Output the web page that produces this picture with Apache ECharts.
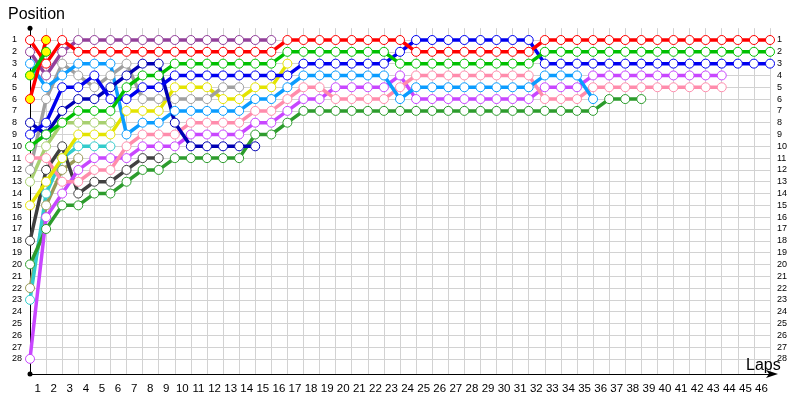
<!DOCTYPE html>
<html><head><meta charset="utf-8">
<script src="https://cdn.jsdelivr.net/npm/echarts@6/dist/echarts.min.js"></script>
<style>html,body{margin:0;padding:0;background:#fff}#c{width:800px;height:400px}</style>
</head><body><div id="c"></div>
<script>
// positions per lap, index = lap (0 = grid)
const red      = [1,3,1, 2,2,2,2,2,2,2,2,2,2,2,2,2, 1,1,1,1,1,1,1,1, 2,2,2,2,2,2,2,2, 1,1,1,1,1,1,1,1,1,1,1,1,1,1,1];
const lime     = [10,9,8,7,7,7,5,4,4, 3,3,3,3,3,3,3, 2,2,2,2,2,2,2, 3,3,3,3,3,3,3,3,3, 2,2,2,2,2,2,2,2,2,2,2,2,2,2,2];
const blue     = [9,8,5,5,4,6,6,5,5, 4,4,4,4,4,4,4,4, 3,3,3,3,3,3, 2, 1,1,1,1,1,1,1,1, 3,3,3,3,3,3,3,3,3,3,3,3,3,3,3];
const purple   = [2,4,2, 1,1,1,1,1,1,1,1,1,1,1,1,1];
const lightblue= [3,5,4,3,3,3,9,8,8,7,7,7,7,7,6,6,5,4,4,4,4,4,4,6,5,5,5,5,5,5,5,5,4,4,4,6];
const grey     = [12,6,3,4,5,4,3,6,6,6,6,6,5,5];
const navy     = [8,9,7,6,6,5,4,3,3,8,10,10,10,10,10];
const yellow   = [15,13,11,9,9,9,7,7,7,5,5,5,6,6,5,5,3];
const pink     = [11,11,13,13,12,12,10,9,9,9,8,8,8,8,7,7,6,5,5, 6,6,6,6, 5, 4,4,4,4,4,4,4,4, 6,6,6, 5,5,5,5,5,5,5,5,5];
const magenta  = [28,16,14,12,11,11,11,10,10,10,9,9,9,9,8,8,7,6,6, 5,5,5,5, 4, 6,6,6,6,6,6,6,6, 5,5,5, 4,4,4,4,4,4,4,4,4];
const black    = [18,12,10,14,13,13,12,11,11];
const darkgreen= [20,17,15,15,14,14,13,12,12,11,11,11,11,11,9,9,8, 7,7,7,7,7,7,7,7,7,7,7,7,7,7,7,7,7,7,7, 6,6,6];
const olive    = [22,15,12,11];
const cyan     = [23,14,11,10,10,10];
const lightgreen=[13,10,8,8,8,8];
const redMark  = [6,1];
const greenMark= [4,2];
const yTicks = Array.from({length:28},(_,i)=>i+1);

const drivers = [
  ['lightgreen', lightgreen, '#a8d070'],
  ['olive', olive, '#9a9a58'],
  ['cyan', cyan, '#33cccc'],
  ['black', black, '#404040'],
  ['darkgreen', darkgreen, '#2c9c2c'],
  ['magenta', magenta, '#c846ff'],
  ['pink', pink, '#ff8cac'],
  ['yellow', yellow, '#e4e400'],
  ['grey', grey, '#a0a0a0'],
  ['lightblue', lightblue, '#0a9cff'],
  ['navy', navy, '#0000b4'],
  ['blue', blue, '#0000f0'],
  ['purple', purple, '#93409a'],
  ['lime', lime, '#00c000'],
  ['red', red, '#ff0000'],
  ['redMark', redMark, '#ff0000', '#ffff00'],
  ['greenMark', greenMark, '#00c000', '#ffff00']
];

const series = drivers.map(([name, arr, col, fill]) => ({
  name, type:'line', data: arr.map((p,i)=>[i,p]),
  symbol:'circle', symbolSize:9, showAllSymbol:true,
  lineStyle:{color:col, width:3.5},
  itemStyle:{color: fill || '#ffffff', borderColor: col, borderWidth:1},
  emphasis:{disabled:true}, z: 2
}));

const gridGrey = '#d2d2d2';
const yColors = [];
for (let i=0;i<=31;i++) yColors.push((i>=1 && i<=28) ? gridGrey : 'rgba(0,0,0,0)');

const chart = echarts.init(document.getElementById('c'));
chart.setOption({
  animation:false,
  title:[
    {text:'Position', left:3, top:2, textStyle:{fontFamily:'Liberation Sans', fontSize:16, fontWeight:'normal', color:'#000'}},
    {text:'Laps', left:741, top:353, textStyle:{fontFamily:'Liberation Sans', fontSize:16, fontWeight:'normal', color:'#000'}}
  ],
  grid:{left:30, right:30, top:28.2, bottom:26.1, containLabel:false},
  xAxis:{type:'value', min:0, max:46, interval:1, position:'bottom',
    axisLine:{onZero:false, lineStyle:{color:'#000', width:1}, symbol:['none','arrow'], symbolSize:[6,12], symbolOffset:[0,8]},
    axisTick:{show:false},
    axisLabel:{fontFamily:'Liberation Sans', fontSize:11.5, color:'#000', margin:9, padding:[0,17,0,0],
      formatter: v => (v>=1 && v<=46) ? String(v) : ''},
    splitLine:{show:true, lineStyle:{color:gridGrey, width:1}}
  },
  yAxis:[
    {type:'value', inverse:true, min:0, max:29.27, interval:1, position:'left',
     axisLine:{show:true, onZero:false, lineStyle:{color:'#000', width:1}, symbol:['circle','circle'], symbolSize:[5,5]},
     axisTick:{show:false},
     axisLabel:{fontFamily:'Liberation Sans', fontSize:9, color:'#000', margin:18, align:'left',
       formatter: v => yTicks.includes(v) ? String(v) : ''},
     splitLine:{show:true, lineStyle:{color:yColors, width:1}}
    },
    {type:'value', inverse:true, min:0, max:29.27, interval:1, position:'right',
     axisLine:{show:false}, axisTick:{show:false}, splitLine:{show:false},
     axisLabel:{fontFamily:'Liberation Sans', fontSize:9, color:'#000', margin:7, align:'left',
       formatter: v => yTicks.includes(v) ? String(v) : ''}
    }
  ],
  series
});
</script></body></html>
